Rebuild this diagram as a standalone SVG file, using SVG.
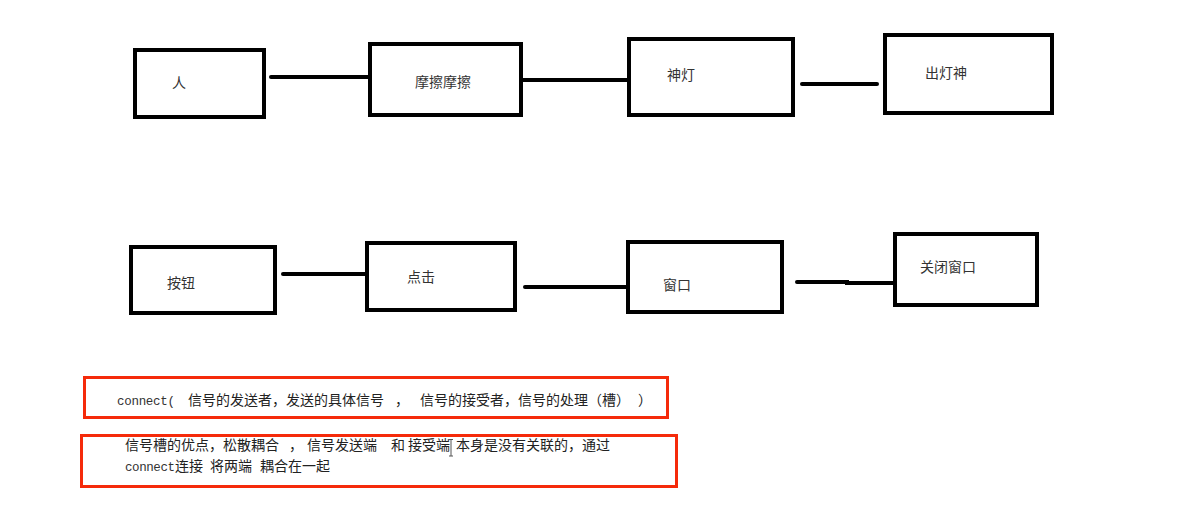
<svg xmlns="http://www.w3.org/2000/svg" width="1179" height="521" viewBox="0 0 1179 521">
<style>
.box{fill:#fff;stroke:#000;stroke-width:4}
.ln{fill:none;stroke:#000;stroke-width:4;stroke-linecap:round}
.lbl{font-family:"Noto Sans CJK SC","Noto Sans",sans-serif;font-size:14px;fill:#333}
.note{font-family:"Noto Sans CJK SC","Noto Sans",sans-serif;font-size:14px;fill:#222}
.mono{font-family:"Liberation Mono","DejaVu Sans Mono",monospace;font-size:12.5px;fill:#333}
.red{fill:none;stroke:#f52a0a;stroke-width:3}
</style>
<rect width="1179" height="521" fill="#fff"/>
<g id="connectors">
<path class="ln" d="M271 77H368"/>
<path class="ln" d="M523 80H627"/>
<path class="ln" d="M802 84H877"/>
<path class="ln" d="M283 274H365"/>
<path class="ln" d="M525 287H626"/>
<path class="ln" d="M797 282H847V283H893"/>
</g>
<g id="n-ren"><rect class="box" x="135" y="50" width="129" height="67"/><text class="lbl" x="172" y="88">人</text></g>
<g id="n-mocamoca"><rect class="box" x="370" y="44" width="151" height="71"/><text class="lbl" x="415" y="87">摩擦摩擦</text></g>
<g id="n-shendeng"><rect class="box" x="629" y="39" width="164" height="76"/><text class="lbl" x="667" y="80">神灯</text></g>
<g id="n-chudengshen"><rect class="box" x="885" y="35" width="167" height="78"/><text class="lbl" x="925" y="78">出灯神</text></g>
<g id="n-anniu"><rect class="box" x="131" y="247" width="144" height="66"/><text class="lbl" x="167" y="288">按钮</text></g>
<g id="n-dianji"><rect class="box" x="367" y="243" width="148" height="67"/><text class="lbl" x="407" y="282">点击</text></g>
<g id="n-chuangkou"><rect class="box" x="628" y="242" width="154" height="70"/><text class="lbl" x="663" y="290">窗口</text></g>
<g id="n-guanbi"><rect class="box" x="895" y="234" width="142" height="71"/><text class="lbl" x="920" y="272">关闭窗口</text></g>
<g id="note1">
<rect class="red" x="84.5" y="377.5" width="583" height="40"/>
<text class="note" y="405"><tspan class="mono" x="117" textLength="58">connect(</tspan><tspan x="188">信号的发送者，发送的具体信号</tspan><tspan x="395">，</tspan><tspan x="420">信号的接受者，信号的处理（槽）</tspan><tspan x="638">）</tspan></text>
</g>
<g id="note2">
<rect class="red" x="81.5" y="435.5" width="595" height="51"/>
<text class="note"><tspan x="125" y="450">信号槽的优点，松散耦合</tspan><tspan x="289" y="450">，</tspan><tspan x="307" y="450">信号发送端</tspan><tspan x="391" y="450">和</tspan><tspan x="408" y="450">接受端</tspan><tspan x="456" y="450">本身是没有关联的，通过</tspan></text>
<text class="note"><tspan class="mono" x="125" y="471" textLength="50" fill="#555">connect</tspan><tspan x="175" y="471">连接</tspan><tspan x="210" y="471">将两端</tspan><tspan x="260" y="471">耦合在一起</tspan></text>
<path d="M449 439.5h4M451 439.5V456M449 456h4" stroke="#555" stroke-width="1" fill="none"/>
</g>
</svg>
